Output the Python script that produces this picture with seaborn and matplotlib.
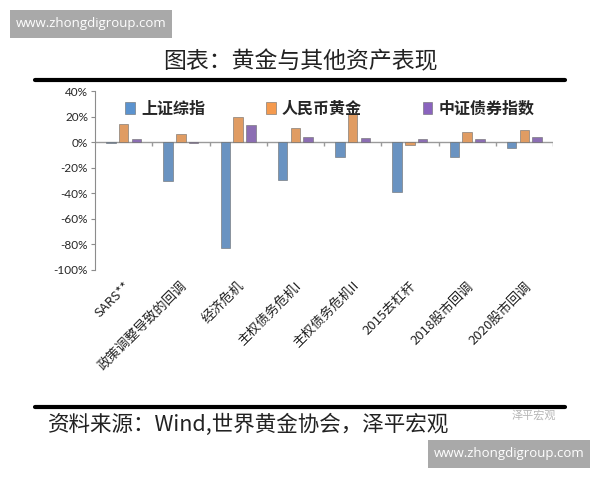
import matplotlib
matplotlib.use('Agg')
import matplotlib.pyplot as plt
from matplotlib.patches import Patch, Rectangle
from matplotlib.lines import Line2D
from matplotlib.ticker import PercentFormatter
import seaborn as sns
import pandas as pd
import numpy as np

# 数据（单位：%）
categories = ['SARS**', '政策调整导致的回调', '经济危机', '主权债务危机I',
              '主权债务危机II', '2015去杠杆', '2018股市回调', '2020股市回调']
series_names = ['上证综指', '人民币黄金', '中证债券指数']
sh_index = [-0.6, -30.3, -83.0, -29.7, -11.5, -38.9, -12.0, -4.2]
rmb_gold = [13.8, 6.0, 19.3, 10.7, 22.4, -2.6, 7.6, 9.6]
bond_index = [2.3, -0.5, 13.3, 4.2, 3.1, 2.6, 2.6, 3.7]
colors = ['#5B93CF', '#F59A4E', '#8A63BE']

df = pd.DataFrame({
    'category': categories * 3,
    'series': [s for s in series_names for _ in categories],
    'value': sh_index + rmb_gold + bond_index,
})

sns.set_style('white')
plt.rcParams['font.family'] = ['Noto Sans CJK SC', 'DejaVu Sans']
plt.rcParams['axes.unicode_minus'] = False

fig = plt.figure(figsize=(6, 4.8), dpi=100)
ax = fig.add_axes([95 / 600, 1 - 270 / 480, (553 - 95) / 600, (270 - 91) / 480])

sns.barplot(data=df, x='category', y='value', hue='series',
            order=categories, hue_order=series_names, palette=colors,
            width=0.67, gap=0.25, errorbar=None, ax=ax,
            edgecolor='#6b6b6b', linewidth=0.4)

ax.set_xlim(-0.5, 7.5)
ax.set_ylim(-100, 40)
ax.set_yticks(range(-100, 41, 20))
ax.yaxis.set_major_formatter(PercentFormatter(decimals=0))
ax.set_xlabel('')
ax.set_ylabel('')

for s in ['top', 'right', 'bottom']:
    ax.spines[s].set_visible(False)
ax.spines['left'].set_color('#8c8c8c')
ax.tick_params(axis='y', left=True, length=3, color='#8c8c8c', labelsize=8.5, pad=2)
for lbl in ax.get_yticklabels():
    lbl.set_fontfamily('Lato')

# 零轴与分组刻度
ax.axhline(0, color='#9a9a9a', lw=1, zorder=0)
ax.vlines(np.arange(0.5, 8, 1), -3, 0, color='#9a9a9a', lw=1)

ax.set_xticks(range(len(categories)))
ax.set_xticklabels(categories, rotation=45, ha='right', va='top',
                   rotation_mode='anchor', fontsize=9.5, color='#222222')
ax.tick_params(axis='x', length=0, pad=7)

handles = [Patch(facecolor=c, edgecolor='#6b6b6b', lw=0.4) for c in colors]
ax.legend(handles, series_names, ncol=3, loc='center',
          bbox_to_anchor=(0.513, 0.9), frameon=False,
          handlelength=0.6, handleheight=0.8, handletextpad=0.4,
          columnspacing=3.8, prop={'size': 11.5, 'weight': 'bold'})

# 标题、分隔线、来源
fig.text(0.5, 1 - 62 / 480, '图表：黄金与其他资产表现', ha='center', va='center',
         fontsize=16.5, color='#222222')
fig.add_artist(Line2D([35 / 600, 565 / 600], [1 - 80 / 480] * 2, lw=3, color='black',
                      transform=fig.transFigure))
fig.add_artist(Line2D([35 / 600, 565 / 600], [1 - 407 / 480] * 2, lw=3, color='black',
                      transform=fig.transFigure))
fig.text(48 / 600, 1 - 425 / 480, '资料来源：Wind,世界黄金协会，泽平宏观',
         va='center', fontsize=15.5, style='italic', color='#222222')
fig.text(512 / 600, 1 - 415 / 480, '泽平宏观', va='center', fontsize=8, color='#b5b5b5')

# 水印
for x0, y0 in [(10, 10), (428, 440)]:
    fig.add_artist(Rectangle((x0 / 600, 1 - (y0 + 28) / 480), 162 / 600, 28 / 480,
                             transform=fig.transFigure, fc='#a9a9a9', ec='none'))
    fig.text((x0 + 81) / 600, 1 - (y0 + 14) / 480, 'www.zhongdigroup.com',
             ha='center', va='center', fontsize=9.5, color='white', family='Open Sans')

fig.savefig('out.png', dpi=100)
